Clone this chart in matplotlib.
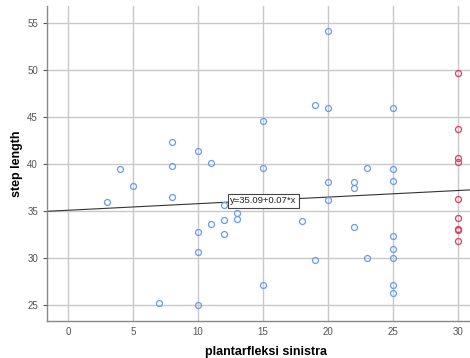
import matplotlib
matplotlib.use("Agg")
import matplotlib.pyplot as plt
import numpy as np

plt.rcParams['font.family'] = ['Liberation Sans', 'DejaVu Sans']

# blue group
x_blue = [3, 4, 5, 7, 8, 8, 8, 10, 10, 10, 10, 11, 11, 12, 12, 12, 13, 13,
          15, 15, 15, 18, 19, 19, 20, 20, 20, 20, 22, 22, 22, 23, 23,
          25, 25, 25, 25, 25, 25, 25, 25]
y_blue = [36.0, 39.5, 37.7, 25.2, 42.3, 39.8, 36.5, 41.4, 32.8, 30.6, 25.0, 40.1, 33.65, 35.7, 34.05, 32.55, 34.75, 34.15,
          44.6, 39.6, 27.15, 33.9, 46.3, 29.75, 54.2, 46.0, 38.1, 36.2, 38.1, 37.5, 33.3, 39.6, 30.0,
          46.0, 39.5, 38.2, 32.35, 31.0, 30.0, 27.15, 26.3]
# red group
x_red = [30, 30, 30, 30, 30, 30, 30, 30, 30]
y_red = [49.7, 43.7, 40.6, 40.2, 36.3, 34.25, 33.1, 33.0, 31.8]

intercept = 35.09
slope = 0.07
fit_label = "y=35.09+0.07*x"

x_ticks = [0, 5, 10, 15, 20, 25, 30]
y_ticks = [25, 30, 35, 40, 45, 50, 55]

fig = plt.figure(figsize=(4.70, 3.58), dpi=100)
ax = fig.add_axes([0.1, 0.103, 0.9, 0.88])

xlim = (-1.62, 30.9)
ylim = (23.3, 56.8)
ax.set_xlim(*xlim)
ax.set_ylim(*ylim)

ax.grid(True, color='#c8c8c8', linewidth=1.0, zorder=0)
ax.set_axisbelow(True)

xs = np.array(xlim)
ax.plot(xs, intercept + slope * xs, color='#333333', linewidth=0.8, zorder=2)

ax.plot(x_blue, y_blue, linestyle='none', marker='o', markersize=4.3,
        markerfacecolor='none', markeredgecolor='#6b9be6', markeredgewidth=0.9, zorder=3)
ax.plot(x_red, y_red, linestyle='none', marker='o', markersize=4.3,
        markerfacecolor='none', markeredgecolor='#e23a62', markeredgewidth=0.9, zorder=3)

ax.text(15.0, 36.1, fit_label, fontsize=6.8, ha='center', va='center', color='#222222',
        bbox=dict(boxstyle='square,pad=0.25', facecolor='white', edgecolor='#444444', linewidth=0.8),
        zorder=4)

ax.set_xticks(x_ticks)
ax.set_yticks(y_ticks)
ax.tick_params(axis='both', labelsize=7, colors='#555555', length=3, width=0.8)
ax.tick_params(axis='x', length=0, pad=4)
for s in ['top', 'right']:
    ax.spines[s].set_visible(False)
for s in ['left', 'bottom']:
    ax.spines[s].set_color('#888888')
    ax.spines[s].set_linewidth(1.0)

ax.set_xlabel('plantarfleksi sinistra', fontsize=9, fontweight='bold', va='center')
ax.xaxis.set_label_coords(0.518, -0.097)
ax.set_ylabel('step length', fontsize=9, fontweight='bold', labelpad=3)

fig.savefig('out.png', dpi=100)
